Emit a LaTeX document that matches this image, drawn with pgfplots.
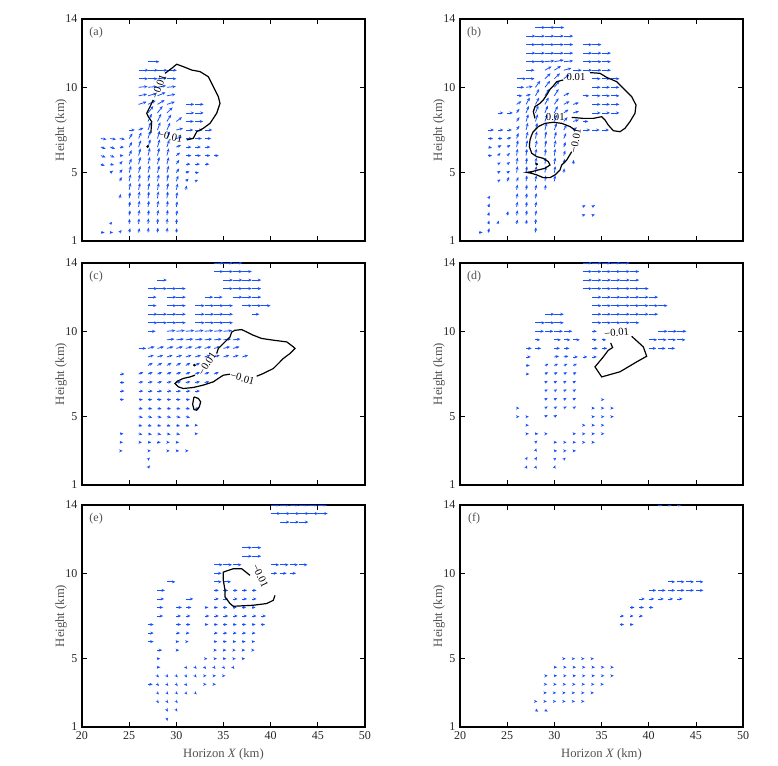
\documentclass[border=0pt]{standalone}
\usepackage{fontspec}
\setmainfont{Liberation Serif}
\usepackage{pgfplots}
\pgfplotsset{compat=1.18}
\usepackage{pgfplotstable}
\usetikzlibrary{arrows.meta}
\definecolor{vec}{HTML}{1650FF}
\definecolor{lab}{HTML}{505050}

% wind vectors: x (km), height (km), u, v (plot units)
\pgfplotstableread[row sep=\\]{
x y u v\\
27 11.5 1.2 0\\
26 11 1.05 0\\ 27 11 1.05 0\\ 28 11 1.05 0\\ 29 11 1.05 0\\
26 10.5 1 0\\ 27 10.5 1 0\\ 28 10.5 1 0.05\\ 29 10.5 1 0\\
26 10 0.95 0.05\\ 27 10 0.95 0.05\\ 28 10 0.9 0.1\\ 29 10 0.95 0.05\\
26 9.5 0.9 0.1\\ 27 9.5 0.9 0.15\\ 28 9.5 0.85 0.2\\ 29 9.5 0.9 0.1\\
26 9 0.85 0.15\\ 27 9 0.8 0.22\\ 28 9 0.75 0.25\\ 29 9 0.85 0.15\\ 31 9 0.9 0\\ 32 9 0.9 0\\
27 8.5 0.55 0.4\\ 28 8.5 0.55 0.4\\ 29 8.5 0.6 0.32\\ 31 8.5 0.9 0\\ 32 8.5 0.9 0\\
27 8 0.4 0.45\\ 28 8 0.4 0.45\\ 29 8 0.45 0.4\\ 30 8 0.6 0.25\\ 31 8 0.85 0\\ 32 8 0.85 0\\
25 7.5 0.6 0\\ 26 7.5 0.5 0.12\\ 27 7.5 0.3 0.45\\ 28 7.5 0.3 0.45\\ 29 7.5 0.35 0.42\\ 30 7.5 0.7 0.1\\ 31 7.5 0.8 0\\ 32 7.5 0.8 0\\ 33 7.5 0.8 0\\
22 7 0.6 -0.05\\ 23 7 0.6 -0.05\\ 24 7 0.55 -0.05\\ 25 7 0.35 0.3\\ 26 7 0.3 0.36\\ 27 7 0.25 0.45\\ 28 7 0.25 0.45\\ 29 7 0.3 0.42\\ 30 7 0.6 0.1\\ 31 7 0.7 0\\ 32 7 0.7 0\\ 33 7 0.7 0\\
22 6.5 0.5 -0.1\\ 23 6.5 0.5 -0.1\\ 24 6.5 0.45 0\\ 25 6.5 0.3 0.3\\ 26 6.5 0.25 0.4\\ 27 6.5 0.25 0.45\\ 28 6.5 0.25 0.45\\ 29 6.5 0.25 0.42\\ 30 6.5 0.5 0.12\\ 31 6.5 0.6 0\\ 32 6.5 0.6 0\\ 33 6.5 0.6 0\\
22 6 0.5 -0.1\\ 23 6 0.45 -0.1\\ 24 6 0.4 0\\ 25 6 0.25 0.32\\ 26 6 0.2 0.42\\ 27 6 0.2 0.45\\ 28 6 0.2 0.45\\ 29 6 0.2 0.42\\ 30 6 0.4 0.18\\ 31 6 0.6 0\\ 32 6 0.6 0\\ 33 6 0.6 0\\ 34 6 0.5 0\\
22 5.5 0.4 -0.1\\ 23 5.5 0.4 -0.05\\ 24 5.5 0.3 0.18\\ 25 5.5 0.25 0.32\\ 26 5.5 0.2 0.42\\ 27 5.5 0.2 0.42\\ 28 5.5 0.2 0.42\\ 29 5.5 0.2 0.4\\ 30 5.5 0.3 0.25\\ 31 5.5 0.5 0\\ 32 5.5 0.5 0\\ 33 5.5 0.5 0\\
23 5 0.3 0.12\\ 24 5 0.3 0.2\\ 25 5 0.2 0.4\\ 26 5 0.2 0.4\\ 27 5 0.2 0.42\\ 28 5 0.2 0.42\\ 29 5 0.2 0.4\\ 30 5 0.3 0.25\\ 31 5 0.4 0.08\\ 32 5 0.4 0\\
24 4.5 0.2 0.25\\ 25 4.5 0.15 0.4\\ 26 4.5 0.15 0.4\\ 27 4.5 0.15 0.4\\ 28 4.5 0.15 0.4\\ 29 4.5 0.15 0.4\\ 30 4.5 0.2 0.32\\ 31 4.5 0.3 0.15\\ 32 4.5 0.3 0.08\\
25 4 0.15 0.4\\ 26 4 0.15 0.4\\ 27 4 0.15 0.4\\ 28 4 0.15 0.4\\ 29 4 0.15 0.4\\ 30 4 0.15 0.36\\ 31 4 0.1 0.25\\
24 3.5 0.1 0.25\\ 25 3.5 0.1 0.36\\ 26 3.5 0.1 0.4\\ 27 3.5 0.1 0.4\\ 28 3.5 0.1 0.4\\ 29 3.5 0.1 0.4\\ 30 3.5 0.1 0.36\\
25 3 0.1 0.32\\ 26 3 0.1 0.36\\ 27 3 0.1 0.36\\ 28 3 0.1 0.36\\ 29 3 0.1 0.36\\ 30 3 0.1 0.32\\
25 2.5 0.1 0.3\\ 26 2.5 0.1 0.32\\ 27 2.5 0.1 0.32\\ 28 2.5 0.1 0.32\\ 29 2.5 0.1 0.32\\ 30 2.5 0.1 0.3\\
23 2 0.2 0.12\\ 25 2 0.05 0.3\\ 26 2 0.05 0.32\\ 27 2 0.05 0.32\\ 28 2 0.05 0.32\\ 29 2 0.05 0.32\\ 30 2 0.05 0.3\\
22 1.5 0.4 0\\ 23 1.5 0.3 0\\ 24 1.5 0.2 0.15\\ 25 1.5 0.1 0.25\\ 26 1.5 0.1 0.25\\ 27 1.5 0.05 0.28\\ 28 1.5 0.05 0.28\\ 29 1.5 0.05 0.28\\ 30 1.5 0.05 0.25\\
}\tabA

\pgfplotstableread[row sep=\\]{
x y u v\\
28 13.5 1.05 0\\ 29 13.5 1.05 0\\ 30 13.5 1.05 0\\
27 13 1 0\\ 28 13 1 0\\ 29 13 1 0\\ 30 13 1 0\\ 31 13 1 0\\
27 12.5 1 0\\ 28 12.5 1 0\\ 29 12.5 1 0\\ 30 12.5 1 0\\ 31 12.5 1 0\\ 33 12.5 1 0\\ 34 12.5 1 0\\
27 12 1 0\\ 28 12 1 0\\ 29 12 1 0\\ 30 12 1 0\\ 31 12 1 0\\ 33 12 1 0\\ 34 12 1 0\\ 35 12 1 0\\
27 11.5 1 0\\ 28 11.5 1 0\\ 29 11.5 1 0.05\\ 30 11.5 1 0.1\\ 31 11.5 1 0.05\\ 33 11.5 1 0\\ 34 11.5 1 0\\ 35 11.5 1 0\\
27 11 0.9 0\\ 29 11 0.7 0.22\\ 30 11 0.7 0.25\\ 31 11 0.8 0.12\\ 32 11 0.9 0\\ 33 11 1 0\\ 34 11 1 0\\ 35 11 1 0\\
26 10.5 1 0\\ 27 10.5 0.9 0\\ 29 10.5 0.6 0.32\\ 30 10.5 0.6 0.32\\ 31 10.5 0.6 0.25\\ 34 10.5 0.9 0\\ 35 10.5 0.9 0\\ 36 10.5 0.9 0\\
26 10 0.8 0\\ 27 10 0.7 0.05\\ 28 10 0.5 0.38\\ 29 10 0.55 0.38\\ 30 10 0.55 0.38\\ 34 10 0.9 0\\ 35 10 0.9 0\\ 36 10 0.9 0\\
26 9.5 0.6 0\\ 27 9.5 0.5 0.1\\ 28 9.5 0.4 0.4\\ 29 9.5 0.45 0.4\\ 30 9.5 0.45 0.4\\ 31 9.5 0.6 0.18\\ 33 9.5 0.7 0\\ 34 9.5 0.9 0\\ 35 9.5 0.9 0\\ 36 9.5 0.9 0\\
26 9 0.5 0.18\\ 27 9 0.4 0.4\\ 28 9 0.4 0.4\\ 29 9 0.4 0.4\\ 30 9 0.45 0.36\\ 31 9 0.6 0.18\\ 32 9 0.6 0.1\\ 34 9 0.9 0\\ 35 9 0.9 0\\ 36 9 0.9 0\\
24 8.5 0.6 0\\ 25 8.5 0.6 0\\ 26 8.5 0.3 0.25\\ 27 8.5 0.3 0.4\\ 28 8.5 0.3 0.42\\ 29 8.5 0.3 0.42\\ 30 8.5 0.35 0.4\\ 31 8.5 0.5 0.2\\ 32 8.5 0.6 0.1\\ 34 8.5 0.9 0\\ 35 8.5 0.9 0\\ 36 8.5 0.9 0\\
26 8 0.3 0.25\\ 27 8 0.25 0.42\\ 28 8 0.25 0.42\\ 29 8 0.25 0.42\\ 30 8 0.3 0.4\\ 31 8 0.4 0.25\\ 32 8 0.6 0.1\\ 33 8 0.6 0\\
23 7.5 0.6 0\\ 24 7.5 0.6 0\\ 25 7.5 0.5 0\\ 26 7.5 0.3 0.25\\ 27 7.5 0.2 0.42\\ 28 7.5 0.2 0.42\\ 29 7.5 0.2 0.42\\ 30 7.5 0.25 0.4\\ 31 7.5 0.3 0.3\\ 32 7.5 0.4 0.15\\ 33 7.5 0.8 0\\ 34 7.5 0.8 0\\ 35 7.5 0.8 0\\
23 7 0.5 0\\ 24 7 0.5 0\\ 25 7 0.45 0.05\\ 26 7 0.2 0.32\\ 27 7 0.2 0.4\\ 28 7 0.15 0.42\\ 29 7 0.15 0.42\\ 30 7 0.2 0.4\\ 31 7 0.25 0.32\\
23 6.5 0.4 -0.05\\ 24 6.5 0.4 0.1\\ 25 6.5 0.35 0.12\\ 26 6.5 0.15 0.4\\ 27 6.5 0.15 0.4\\ 28 6.5 0.15 0.4\\ 29 6.5 0.15 0.4\\ 30 6.5 0.15 0.4\\ 31 6.5 0.2 0.3\\
23 6 0.4 0\\ 24 6 0.3 0.15\\ 25 6 0.3 0.15\\ 26 6 0.1 0.4\\ 27 6 0.1 0.4\\ 28 6 0.1 0.4\\ 29 6 0.1 0.4\\ 30 6 0.1 0.4\\ 31 6 0.15 0.3\\
24 5.5 0.3 0.1\\ 25 5.5 0.3 0.12\\ 26 5.5 0.1 0.38\\ 27 5.5 0.1 0.38\\ 28 5.5 0.1 0.38\\ 29 5.5 0.1 0.38\\ 30 5.5 0.1 0.38\\ 31 5.5 0.1 0.3\\ 32 5.5 0.05 0.25\\
24 5 0.3 0.1\\ 25 5 0.3 0.1\\ 26 5 0.1 0.38\\ 27 5 0.1 0.38\\ 28 5 0.1 0.38\\ 29 5 0.1 0.38\\ 30 5 0.1 0.38\\ 31 5 0.05 0.25\\
24 4.5 0.3 0.1\\ 25 4.5 0.2 0.25\\ 26 4.5 0.2 0.25\\ 27 4.5 0.1 0.34\\ 28 4.5 0.1 0.34\\ 29 4.5 0.1 0.34\\ 30 4.5 0.1 0.34\\
26 4 0.1 0.3\\ 27 4 0.1 0.3\\ 28 4 0.1 0.3\\ 29 4 0.1 0.3\\
23 3.5 0.2 0.15\\ 26 3.5 0.1 0.3\\ 27 3.5 0.1 0.3\\ 28 3.5 0.1 0.3\\
23 3 0.15 0.2\\ 26 3 0.1 0.3\\ 27 3 0.1 0.3\\ 28 3 0.1 0.3\\ 33 3 0.3 0.1\\ 34 3 0.3 0.1\\
23 2.5 0.1 0.2\\ 25 2.5 0.1 0.25\\ 26 2.5 0.1 0.3\\ 27 2.5 0.1 0.3\\ 28 2.5 0.1 0.3\\ 33 2.5 0.3 0.05\\ 34 2.5 0.3 0.05\\
23 2 0.1 0.2\\ 24 2 0.1 0.2\\ 26 2 0.1 0.25\\ 27 2 0.1 0.25\\ 28 2 0.05 0.3\\
22 1.5 0.4 0\\ 23 1.5 0.1 0.25\\ 28 1.5 0.05 0.3\\
}\tabB

\pgfplotstableread[row sep=\\]{
x y u v\\
34 14 1 0\\ 35 14 1 0\\ 36 14 1 0\\
34 13.5 1 0\\ 35 13.5 1 0\\ 36 13.5 1 0\\ 37 13.5 1 0\\
28 13 1 0\\ 35 13 1 0\\ 36 13 1 0\\ 37 13 1 0\\ 38 13 1 0\\
27 12.5 1 0\\ 28 12.5 1 0\\ 29 12.5 1 0\\ 30 12.5 1 0\\ 35 12.5 1 0\\ 36 12.5 1 0\\ 37 12.5 1 0\\ 38 12.5 1 0\\
27 12 0.9 0\\ 29 12 1 0\\ 30 12 1 0\\ 33 12 0.9 0\\ 34 12 0.9 0\\ 36 12 1 0\\ 37 12 1 0\\ 38 12 1 0\\
27 11.5 0.9 0\\ 29 11.5 1 0\\ 30 11.5 1 0\\ 32 11.5 1 0\\ 33 11.5 1 0\\ 34 11.5 1 0\\ 35 11.5 1 0\\ 37 11.5 1 0\\ 38 11.5 1 0\\ 39 11.5 1 0\\
27 11 1 0\\ 28 11 1 0\\ 29 11 1 0\\ 30 11 1 0\\ 32 11 1 0\\ 33 11 1 0\\ 34 11 1 0\\ 35 11 1 0\\ 38 11 0.8 0\\
27 10.5 1 0\\ 28 10.5 1 0\\ 29 10.5 1 0\\ 30 10.5 1 0\\ 32 10.5 1 0\\ 33 10.5 1 0\\ 34 10.5 1 0\\ 35 10.5 1 0\\
27 10 0.8 0\\ 29 10 0.9 0.05\\ 30 10 0.9 0.05\\ 31 10 0.9 0.05\\ 32 10 0.9 0.05\\ 33 10 0.9 0.05\\ 34 10 0.9 0.05\\ 35 10 0.9 0.05\\
29 9.5 0.8 0.05\\ 30 9.5 0.8 0.05\\ 31 9.5 0.8 0.05\\ 32 9.5 0.8 0.05\\ 33 9.5 0.8 0.05\\ 34 9.5 0.8 0.05\\ 35 9.5 0.8 0.05\\ 36 9.5 0.8 0.05\\
26 9 0.8 0\\ 27 9 0.7 0.1\\ 28 9 0.7 0.1\\ 29 9 0.7 0.1\\ 30 9 0.7 0.1\\ 31 9 0.7 0.1\\ 32 9 0.7 0.1\\ 33 9 0.7 0.1\\ 34 9 0.7 0.1\\ 35 9 0.7 0.1\\ 36 9 0.7 0.1\\
27 8.5 0.6 0.1\\ 28 8.5 0.6 0.1\\ 29 8.5 0.6 0.1\\ 30 8.5 0.6 0.1\\ 31 8.5 0.6 0.1\\ 32 8.5 0.6 0.1\\ 33 8.5 0.6 0.1\\ 34 8.5 0.6 0.1\\ 35 8.5 0.6 0.1\\ 36 8.5 0.6 0.1\\ 37 8.5 0.6 0.1\\
27 8 0.5 0.15\\ 28 8 0.5 0.15\\ 29 8 0.5 0.15\\ 30 8 0.5 0.15\\ 31 8 0.5 0.15\\ 32 8 0.5 0.15\\
24 7.5 0.5 0\\ 26 7.5 0.5 0.1\\ 27 7.5 0.5 0.1\\ 28 7.5 0.5 0.1\\ 29 7.5 0.5 0.1\\ 30 7.5 0.5 0.1\\ 31 7.5 0.5 0.1\\ 32 7.5 0.5 0.1\\ 33 7.5 0.5 0.1\\ 34 7.5 0.5 0.1\\
24 7 0.5 0\\ 26 7 0.5 0.05\\ 27 7 0.5 0.05\\ 28 7 0.5 0.05\\ 29 7 0.5 0.05\\ 30 7 0.5 0.05\\ 31 7 0.5 0.05\\ 32 7 0.5 0.05\\ 33 7 0.5 0.05\\
24 6.5 0.5 0\\ 26 6.5 0.5 0\\ 27 6.5 0.5 0\\ 28 6.5 0.5 0\\ 29 6.5 0.5 0\\ 30 6.5 0.5 0\\ 31 6.5 0.5 0\\ 32 6.5 0.5 0\\
24 6 0.45 0\\ 26 6 0.45 0\\ 27 6 0.45 0\\ 28 6 0.45 0\\ 29 6 0.45 0\\ 30 6 0.45 0\\ 31 6 0.45 0\\
26 5.5 0.45 -0.05\\ 27 5.5 0.45 -0.05\\ 28 5.5 0.45 -0.05\\ 29 5.5 0.45 -0.05\\ 30 5.5 0.45 -0.05\\ 31 5.5 0.45 -0.05\\ 32 5.5 0.45 -0.05\\
26 5 0.45 -0.05\\ 27 5 0.45 -0.05\\ 28 5 0.45 -0.05\\ 29 5 0.45 -0.05\\ 30 5 0.45 -0.05\\ 31 5 0.45 -0.05\\
26 4.5 0.4 -0.05\\ 27 4.5 0.4 -0.05\\ 28 4.5 0.4 -0.05\\ 29 4.5 0.4 -0.05\\ 30 4.5 0.4 -0.05\\ 31 4.5 0.4 -0.05\\ 32 4.5 0.3 0\\
24 4 0.4 0\\ 26 4 0.4 -0.05\\ 27 4 0.4 -0.05\\ 28 4 0.4 -0.05\\ 29 4 0.4 -0.05\\ 30 4 0.4 -0.05\\ 32 4 0.3 0\\
24 3.5 0.35 0\\ 26 3.5 0.35 0\\ 27 3.5 0.35 0\\ 28 3.5 0.35 0\\ 29 3.5 0.3 0\\ 30 3.5 0.3 0\\
24 3 0.3 0\\ 27 3 0.3 0\\ 29 3 0.3 0\\ 30 3 0.3 0\\ 31 3 0.3 0\\
27 2.5 0.2 0.1\\
27 2 0.2 0.15\\
}\tabC

\pgfplotstableread[row sep=\\]{
x y u v\\
33 14 1 0\\ 34 14 1 0\\ 35 14 1 0\\ 36 14 1 0\\ 37 14 1 0\\
33 13.5 1 0\\ 34 13.5 1 0\\ 35 13.5 1 0\\ 36 13.5 1 0\\ 37 13.5 1 0\\ 38 13.5 1 0\\
33 13 1 0\\ 34 13 1 0\\ 35 13 1 0\\ 36 13 1 0\\ 37 13 1 0\\ 38 13 1 0\\
33 12.5 1 0\\ 34 12.5 1 0\\ 35 12.5 1 0\\ 36 12.5 1 0\\ 37 12.5 1 0\\ 38 12.5 1 0\\ 39 12.5 1 0\\
34 12 1 0\\ 35 12 1 0\\ 36 12 1 0\\ 37 12 1 0\\ 38 12 1 0\\ 39 12 1 0\\ 40 12 1 0\\
34 11.5 1 0\\ 35 11.5 1 0\\ 36 11.5 1 0\\ 37 11.5 1 0\\ 38 11.5 1 0\\ 39 11.5 1 0\\ 40 11.5 1 0\\ 41 11.5 1 0\\
29 11 1 0\\ 30 11 1 0\\ 34 11 1 0\\ 35 11 1 0\\ 36 11 1 0\\ 37 11 1 0\\ 38 11 1 0\\ 39 11 1 0\\ 40 11 1 0\\
28 10.5 1 0\\ 29 10.5 1 0\\ 30 10.5 1 0\\ 34 10.5 1 0\\ 35 10.5 1 0\\ 36 10.5 1 0\\ 37 10.5 1 0\\ 38 10.5 1 0\\
28 10 0.9 0\\ 29 10 0.9 0\\ 30 10 0.9 0\\ 31 10 0.9 0\\ 34 10 0.5 0\\ 41 10 1 0\\ 42 10 1 0\\ 43 10 1 0\\
28 9.5 0.5 0\\ 30 9.5 0.7 0\\ 31 9.5 0.7 0\\ 32 9.5 0.7 0\\ 34 9.5 0.5 0\\ 35 9.5 0.5 0\\ 40 9.5 0.9 0\\ 41 9.5 0.9 0\\ 42 9.5 0.9 0\\ 43 9.5 0.9 0\\
27 9 0.6 0\\ 28 9 0.6 0\\ 30 9 0.6 0\\ 31 9 0.6 0\\ 34 9 0.6 0\\ 35 9 0.6 0\\ 40 9 0.8 0\\ 41 9 0.8 0\\ 42 9 0.8 0\\
27 8.5 0.5 0\\ 30 8.5 0.5 0.05\\ 31 8.5 0.5 0.05\\ 32 8.5 0.5 0\\ 33 8.5 0.5 0\\ 34 8.5 0.5 0\\
27 8 0.4 0\\ 29 8 0.4 0.1\\ 30 8 0.4 0.1\\ 31 8 0.4 0.1\\ 32 8 0.4 0.1\\
27 7.5 0.35 0\\ 29 7.5 0.35 0.1\\ 30 7.5 0.35 0.1\\ 31 7.5 0.35 0.1\\ 32 7.5 0.35 0.1\\
29 7 0.3 0.1\\ 30 7 0.3 0.1\\ 31 7 0.3 0.1\\ 32 7 0.3 0.1\\
29 6.5 0.3 0.1\\ 30 6.5 0.3 0.1\\ 31 6.5 0.3 0.1\\ 32 6.5 0.3 0.1\\
29 6 0.3 0.1\\ 30 6 0.3 0.1\\ 31 6 0.3 0.1\\ 32 6 0.3 0.1\\ 35 6 0.3 0\\
26 5.5 0.3 0\\ 29 5.5 0.3 0.1\\ 30 5.5 0.3 0.1\\ 31 5.5 0.3 0.1\\ 32 5.5 0.3 0.1\\ 34 5.5 0.3 0\\ 35 5.5 0.3 0\\ 36 5.5 0.3 0\\
26 5 0.3 0\\ 27 5 0.3 0\\ 29 5 0.3 0.1\\ 30 5 0.3 0.1\\ 34 5 0.3 0\\ 35 5 0.3 0\\ 36 5 0.3 0\\
27 4.5 0.3 0\\ 33 4.5 0.3 0\\ 34 4.5 0.3 0\\ 35 4.5 0.3 0\\
27 4 0.3 0\\ 28 4 0.3 0\\ 29 4 0.3 0\\ 32 4 0.3 0\\ 33 4 0.3 0\\ 34 4 0.3 0\\ 35 4 0.3 0\\
28 3.5 0.2 0.1\\ 30 3.5 0.3 0\\ 31 3.5 0.3 0\\ 32 3.5 0.3 0\\ 33 3.5 0.3 0\\ 34 3.5 0.3 0\\
28 3 0.1 0.15\\ 30 3 0.3 0\\ 31 3 0.3 0\\ 32 3 0.3 0\\
27 2.5 0.15 0.15\\ 28 2.5 0.15 0.15\\ 30 2.5 0.2 0.1\\ 31 2.5 0.2 0.1\\
27 2 0.1 0.15\\ 28 2 0.1 0.15\\ 30 2 0.1 0.15\\
}\tabD

\pgfplotstableread[row sep=\\]{
x y u v\\
40 14 1 0\\ 41 14 1 0\\ 42 14 1 0\\ 43 14 1 0\\ 44 14 1 0\\ 45 14 1 0\\
40 13.5 1.05 0\\ 41 13.5 1.05 0\\ 42 13.5 1.05 0\\ 43 13.5 1.05 0\\ 44 13.5 1.05 0\\ 45 13.5 1.05 0\\
41 13 1 0\\ 42 13 1 0\\ 43 13 1 0\\
37 11.5 1 0\\ 38 11.5 1 0\\
37 11 1 0\\ 38 11 1 0\\
34 10.5 0.9 0\\ 35 10.5 0.9 0\\ 36 10.5 0.9 0\\ 40 10.5 0.9 0\\ 41 10.5 0.9 0\\ 42 10.5 0.9 0\\ 43 10.5 0.9 0\\
34 10 0.8 0\\ 40 10 0.7 0\\ 41 10 0.7 0\\ 42 10 0.7 0\\
29 9.5 0.9 0\\ 34 9.5 0.8 0\\ 35 9.5 0.8 0\\
28 9 0.8 0\\ 34 9 0.5 0\\ 35 9 0.5 0\\ 36 9 0.5 0\\ 37 9 0.5 0\\ 38 9 0.5 0\\
28 8.5 0.7 0\\ 31 8.5 0.8 0\\ 34 8.5 0.5 0\\ 35 8.5 0.5 0\\ 36 8.5 0.5 0\\ 37 8.5 0.5 0\\ 38 8.5 0.5 0\\
28 8 0.6 0\\ 30 8 0.6 0\\ 31 8 0.6 0\\ 33 8 0.4 0\\ 34 8 0.4 0\\ 35 8 0.4 0\\ 36 8 0.4 0\\ 37 8 0.4 0\\ 38 8 0.4 0\\
28 7.5 0.6 0\\ 30 7.5 0.5 0\\ 31 7.5 0.5 0\\ 33 7.5 0.5 0\\ 34 7.5 0.5 0\\ 35 7.5 0.5 0\\ 36 7.5 0.5 0\\ 37 7.5 0.5 0\\ 38 7.5 0.5 0\\ 39 7.5 0.5 0\\
27 7 0.6 0\\ 30 7 0.5 0\\ 31 7 0.5 0\\ 33 7 0.4 0\\ 34 7 0.4 0\\ 35 7 0.4 0\\ 36 7 0.4 0\\ 37 7 0.4 0\\ 38 7 0.4 0\\ 39 7 0.4 0\\
27 6.5 0.6 0\\ 30 6.5 0.4 0\\ 31 6.5 0.4 0\\ 34 6.5 0.4 0\\ 35 6.5 0.4 0\\ 36 6.5 0.4 0\\ 37 6.5 0.4 0\\ 38 6.5 0.4 0\\
27 6 0.6 0\\ 30 6 0.3 0\\ 31 6 0.3 0\\ 34 6 0.35 0\\ 35 6 0.35 0\\ 36 6 0.35 0\\ 37 6 0.35 0\\ 38 6 0.35 0\\
28 5.5 0.5 0\\ 30 5.5 0.3 0\\ 34 5.5 0.3 0\\ 35 5.5 0.3 0\\ 36 5.5 0.3 0\\ 37 5.5 0.3 0\\ 38 5.5 0.3 0\\
28 5 0.3 0\\ 33 5 0.3 0\\ 34 5 0.3 0\\ 35 5 0.3 0\\ 36 5 0.3 0\\ 37 5 0.3 0\\
28 4.5 0.3 0\\ 31 4.5 0.15 -0.1\\ 32 4.5 0.15 -0.1\\ 33 4.5 0.15 -0.1\\ 34 4.5 0.15 -0.1\\ 35 4.5 0.15 -0.1\\ 36 4.5 0.15 -0.1\\
28 4 0.15 -0.1\\ 29 4 0.15 -0.1\\ 30 4 0.15 -0.1\\ 31 4 0.15 -0.1\\ 32 4 0.15 -0.1\\ 33 4 0.2 0\\ 34 4 0.2 0\\ 35 4 0.2 0\\
27 3.5 0.5 0\\ 28 3.5 0.15 -0.1\\ 29 3.5 0.15 -0.1\\ 30 3.5 0.15 -0.1\\ 31 3.5 0.15 -0.1\\ 33 3.5 0.2 0\\ 34 3.5 0.2 0\\
28 3 0.15 -0.1\\ 29 3 0.15 -0.1\\ 30 3 0.15 -0.1\\ 31 3 0.15 -0.1\\ 32 3 0.15 -0.1\\
28 2.5 0.15 -0.1\\ 29 2.5 0.15 -0.1\\ 30 2.5 0.15 -0.1\\
29 2 0.1 -0.1\\ 30 2 0.1 -0.1\\
29 1.5 0.05 -0.15\\
}\tabE

\pgfplotstableread[row sep=\\]{
x y u v\\
41 14 0.5 0\\ 42 14 0.5 0\\ 43 14 0.5 0\\
42 9.5 0.8 0\\ 43 9.5 0.8 0\\ 44 9.5 0.8 0\\ 45 9.5 0.8 0\\
40 9 0.8 0\\ 41 9 0.8 0\\ 42 9 0.8 0\\ 43 9 0.8 0\\ 44 9 0.8 0\\ 45 9 0.8 0\\
39 8.5 0.6 0\\ 40 8.5 0.6 0\\ 41 8.5 0.6 0\\ 42 8.5 0.6 0\\ 43 8.5 0.6 0\\
38 8 0.5 0\\ 39 8 0.5 0\\ 40 8 0.5 0\\
37 7.5 0.4 0\\ 38 7.5 0.4 0\\ 39 7.5 0.4 0\\
37 7 0.4 0\\ 38 7 0.4 0\\
31 5 0.2 0\\ 32 5 0.2 0\\ 33 5 0.2 0\\ 34 5 0.2 0\\
30 4.5 0.3 0\\ 31 4.5 0.3 0\\ 32 4.5 0.3 0\\ 33 4.5 0.3 0\\ 34 4.5 0.3 0\\ 35 4.5 0.3 0\\ 36 4.5 0.3 0\\
29 4 0.3 0\\ 30 4 0.3 0\\ 31 4 0.3 0\\ 32 4 0.3 0\\ 33 4 0.3 0\\ 34 4 0.3 0\\ 35 4 0.3 0\\ 36 4 0.3 0\\
29 3.5 0.25 0\\ 30 3.5 0.25 0\\ 31 3.5 0.25 0\\ 32 3.5 0.25 0\\ 33 3.5 0.25 0\\ 34 3.5 0.25 0\\ 35 3.5 0.25 0\\
29 3 0.2 0\\ 30 3 0.2 0\\ 31 3 0.2 0\\ 32 3 0.2 0\\ 33 3 0.2 0\\ 34 3 0.2 0\\
28 2.5 0.2 0\\ 29 2.5 0.2 0\\ 30 2.5 0.2 0\\ 31 2.5 0.2 0\\ 32 2.5 0.2 0\\ 33 2.5 0.2 0\\
28 2 0.3 -0.1\\ 29 2 0.3 -0.1\\
}\tabF

\pgfplotsset{
  panel/.style={
    scale only axis, width=212.25pt, height=166.5pt,
    xmin=20, xmax=50, ymin=1, ymax=14,
    xtick={20,25,30,35,40,45,50}, ytick={1,5,10,14},
    tick align=inside, xtick pos=both, ytick pos=both,
    major tick length=3.5pt,
    axis line style={line width=0.9pt},
    tick style={black, line width=0.5pt},
    tick label style={font=\fontsize{9}{10}\selectfont, text=black!85},
    /pgf/number format/assume math mode=true,
    ylabel={Height (km)}, ylabel shift=-8pt,
    label style={font=\fontsize{9.5}{10}\selectfont, text=lab},
    anchor=south west,
  },
  top/.style={xticklabels={}},
  bottom/.style={xlabel={Horizon \textit{X} (km)}},
  vecs/.style={vec, line width=0.6pt, -{Stealth[length=2.6pt,width=2.2pt]},
    quiver={u=\thisrow{u}, v=\thisrow{v}}},
  cont/.style={black, line width=0.9pt},
}
\newcommand{\clab}[3]{\node[font=\fontsize{8}{9}\selectfont, rotate=#3, inner sep=0pt] at (axis cs:#1) {#2};}
\newcommand{\plab}[1]{\node[font=\fontsize{9}{10}\selectfont, text=lab] at (rel axis cs:0.05,0.94) {#1};}

\begin{document}
\begin{tikzpicture}
\useasboundingbox (0,0) rectangle (583.5pt,573.75pt);

% (a)
\begin{axis}[panel, top, at={(61.5pt,393pt)}]
\addplot[vecs] table {\tabA};
\addplot[cont] coordinates {(28.80,10.82)(29.51,11.11)(30.04,11.35)(30.74,11.21)(31.63,11.01)(32.51,10.92)(33.39,10.62)(33.75,10.23)(34.10,9.84)(34.45,9.45)(34.63,9.06)(34.28,8.48)(33.57,7.89)(32.86,7.60)(32.16,7.40)(31.80,7.01)(31.10,6.92)};
\addplot[cont] coordinates {(27.30,7.32)(27.39,7.99)(27.03,8.28)(26.86,8.48)(27.21,8.87)(27.56,9.26)};
\addplot[black, only marks, mark=*, mark size=0.8pt] coordinates {(26.96,6.53)};
\clab{28.15,10.05}{−0.01}{70}
\clab{29.35,7.10}{−0.01}{-12}
\plab{(a)}
\end{axis}

% (b)
\begin{axis}[panel, top, at={(345pt,393pt)}]
\addplot[vecs] table {\tabB};
\addplot[cont] coordinates {(27.95,8.18)(27.77,8.57)(27.95,8.87)(28.48,9.06)(28.83,9.26)(29.19,9.55)(29.54,9.88)(29.89,10.08)(30.25,10.33)(30.95,10.43)};
\addplot[cont] coordinates {(33.78,10.86)(34.84,10.82)(35.55,10.58)(36.61,10.33)(37.49,9.84)(38.20,9.45)(38.66,8.96)(38.55,8.48)(38.02,7.99)(37.49,7.60)(36.96,7.40)(36.25,7.46)(35.72,7.79)(35.37,8.09)(35.02,8.28)(34.13,8.18)(33.07,8.18)(31.84,8.24)};
\addplot[cont] coordinates {(31.84,6.23)(31.31,5.74)(30.78,5.45)(30.60,5.16)(30.07,4.87)(29.54,4.71)(28.83,4.71)(28.13,4.87)(27.60,4.96)(27.07,5.02)(27.60,5.06)(28.30,5.16)(29.01,5.26)(29.54,5.45)(29.36,5.65)(28.83,5.84)(28.13,5.94)(27.60,6.14)(27.35,6.53)(27.42,6.92)(27.60,7.21)(27.77,7.40)(28.30,7.70)(29.01,7.89)(29.89,7.95)(30.78,7.89)(31.66,7.70)(32.19,7.50)};
\addplot[black, only marks, mark=*, mark size=0.8pt] coordinates {(28.13,5.50)};
\clab{32.30,10.60}{0.01}{0}
\clab{30.10,8.28}{0.01}{0}
\clab{32.25,6.88}{−0.01}{80}
\plab{(b)}
\end{axis}

% (c)
\begin{axis}[panel, top, at={(61.5pt,210pt)}]
\addplot[vecs] table {\tabC};
\addplot[cont] coordinates {(34.28,8.70)(34.45,8.99)(34.81,9.19)(35.34,9.48)(35.69,9.67)(35.87,9.96)(36.22,10.06)(36.93,10.10)(37.46,9.96)(38.16,9.77)(39.05,9.58)(40.28,9.48)(41.70,9.38)(42.40,9.09)(42.58,8.99)(42.05,8.70)(41.34,8.41)(40.81,8.11)(40.28,7.82)(39.22,7.53)(38.52,7.37)};
\addplot[cont] coordinates {(35.69,7.49)(34.98,7.43)(34.45,7.24)(33.92,7.04)(32.86,6.85)(31.80,6.71)(30.74,6.65)(30.21,6.75)(29.86,6.94)(30.11,7.08)(30.74,7.24)(31.45,7.33)(31.98,7.43)};
\addplot[cont] coordinates {(31.87,6.16)(32.33,6.07)(32.58,5.87)(32.44,5.58)(32.16,5.38)(31.87,5.42)(31.73,5.73)(31.87,6.16)};
\addplot[black, only marks, mark=*, mark size=0.8pt] coordinates {(31.91,8.02)};
\clab{33.25,8.10}{−0.01}{58}
\clab{37.00,7.25}{−0.01}{-15}
\plab{(c)}
\end{axis}

% (d)
\begin{axis}[panel, top, at={(345pt,210pt)}]
\addplot[vecs] table {\tabD};
\addplot[cont] coordinates {(38.20,9.71)(39.43,9.09)(39.79,8.54)(38.73,8.21)(36.96,7.63)(35.02,7.33)(34.31,7.92)(35.19,8.50)(35.72,8.89)(36.18,9.05)(35.97,9.32)};
\clab{36.60,9.92}{−0.01}{5}
\plab{(d)}
\end{axis}

% (e)
\begin{axis}[panel, bottom, at={(61.5pt,28.5pt)}]
\addplot[vecs] table {\tabE};
\addplot[cont] coordinates {(37.81,9.88)(36.93,10.27)(36.04,10.27)(34.98,10.07)(34.98,9.59)(35.16,9.01)(35.16,8.62)(35.69,8.23)(36.04,8.07)(38.16,8.13)(39.58,8.23)(40.28,8.42)(40.46,8.71)};
\clab{38.90,9.85}{−0.01}{-65}
\plab{(e)}
\end{axis}

% (f)
\begin{axis}[panel, bottom, at={(345pt,28.5pt)}]
\addplot[vecs] table {\tabF};
\plab{(f)}
\end{axis}
\end{tikzpicture}
\end{document}
